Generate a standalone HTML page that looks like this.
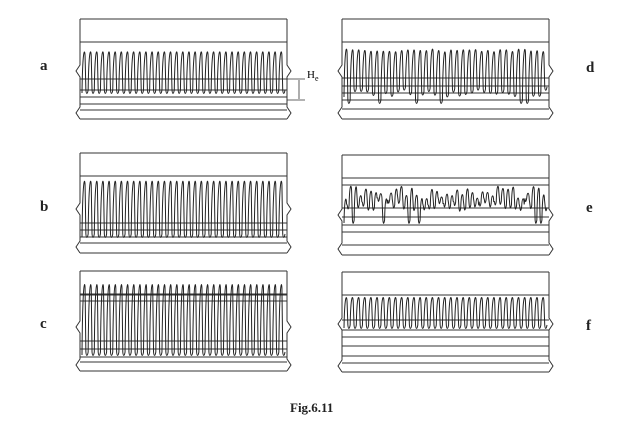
<!DOCTYPE html>
<html><head><meta charset="utf-8"><style>
body{margin:0;background:#fff;width:617px;height:442px;overflow:hidden;position:relative;font-family:"Liberation Serif",serif}
.l{position:absolute;font-size:15px;font-weight:bold;color:#222}
svg{position:absolute;left:0;top:0}
</style></head><body>
<svg id="s" width="617" height="442" viewBox="0 0 617 442"></svg>
<div class="l" style="left:40px;top:58px">a</div>
<div class="l" style="left:40px;top:199px">b</div>
<div class="l" style="left:40px;top:316px">c</div>
<div class="l" style="left:586px;top:60px">d</div>
<div class="l" style="left:586px;top:200px">e</div>
<div class="l" style="left:586px;top:318px">f</div>
<div class="l" style="left:290px;top:400px;font-size:13px">Fig.6.11</div>
<div style="position:absolute;left:307px;top:69px;font-size:11px;font-family:'Liberation Serif',serif">H<sub style="font-size:8px">e</sub></div>
<script>
var s=document.getElementById('s'),o='';
var seed=7;function r(){seed=(seed*16807)%2147483647;return seed/2147483647;}
function L(x1,y1,x2,y2,w){o+='<line x1="'+x1+'" y1="'+y1+'" x2="'+x2+'" y2="'+y2+'" stroke="#333" stroke-width="'+(w||1)+'"/>';}
function panel(x,y,lines,wt,wb,type,notch){
  var w=207,h=100;
  L(x,y,x+w,y);L(x,y+h,x+w,y+h);
  L(x,y+23,x+w,y+23);
  lines.forEach(function(l){L(x,y+l,x+w,y+l,0.9);});
  o+='<polyline fill="none" stroke="#333" stroke-width="1" points="'+x+','+y+' '+x+','+(y+notch-6)+' '+(x-4)+','+(y+notch)+' '+x+','+(y+notch+6)+' '+x+','+(y+h-12)+' '+(x-4)+','+(y+h-6)+' '+x+','+(y+h)+'"/>';
  o+='<polyline fill="none" stroke="#333" stroke-width="1" points="'+(x+w)+','+y+' '+(x+w)+','+(y+notch-6)+' '+(x+w+4)+','+(y+notch)+' '+(x+w)+','+(y+notch+6)+' '+(x+w)+','+(y+h-12)+' '+(x+w+4)+','+(y+h-6)+' '+(x+w)+','+(y+h)+'"/>';
  var n=(type=='noise')?40:33,dx=(w-4)/n,cx=x+2;
  var p='M'+cx+','+(y+wb);
  for(var i=0;i<n;i++){
    var top=y+wt, bot=y+wb, hw=dx*0.5;
    if(type=='noise'){top=y+wt+r()*14;bot=y+wt+16+r()*10;if(r()<0.1)bot=y+wb;}
    if(type=='spiky'){top=y+wt+r()*3;bot=y+wb-r()*8;if(r()<0.3)bot=y+wb+6;}
    // up stroke with rounded top
    p+=' C'+(cx+hw*0.2)+','+(top-2)+' '+(cx+hw*0.9)+','+(top-2)+' '+(cx+hw)+','+(top+6);
    p+=' L'+(cx+hw+0.8)+','+(bot-3);
    p+=' C'+(cx+hw+1.2)+','+(bot+1.5)+' '+(cx+dx-0.8)+','+(bot+1.5)+' '+(cx+dx)+','+(bot-3);
    cx+=dx;
  }
  o+='<path d="'+p+'" fill="none" stroke="#222" stroke-width="1"/>';
}
panel(80,19,[60,71,78,85,91],31,74,'reg',52);
panel(80,153,[70,77,84,90],26,84,'reg',56);
panel(80,271,[24,30,70,78,86,91],11,84,'reg',56);
panel(342,19,[59,67,74,81,90],28,78,'spiky',52);
panel(342,155,[30,53,62,70,77,90],30,68,'noise',60);
panel(342,272,[48,58,65,74,84,91],24,56,'reg',52);
L(287,79,305,79,0.8);L(287,100,305,100,0.8);L(299,80,299,99,0.8);
s.innerHTML=o;
</script>
</body></html>
